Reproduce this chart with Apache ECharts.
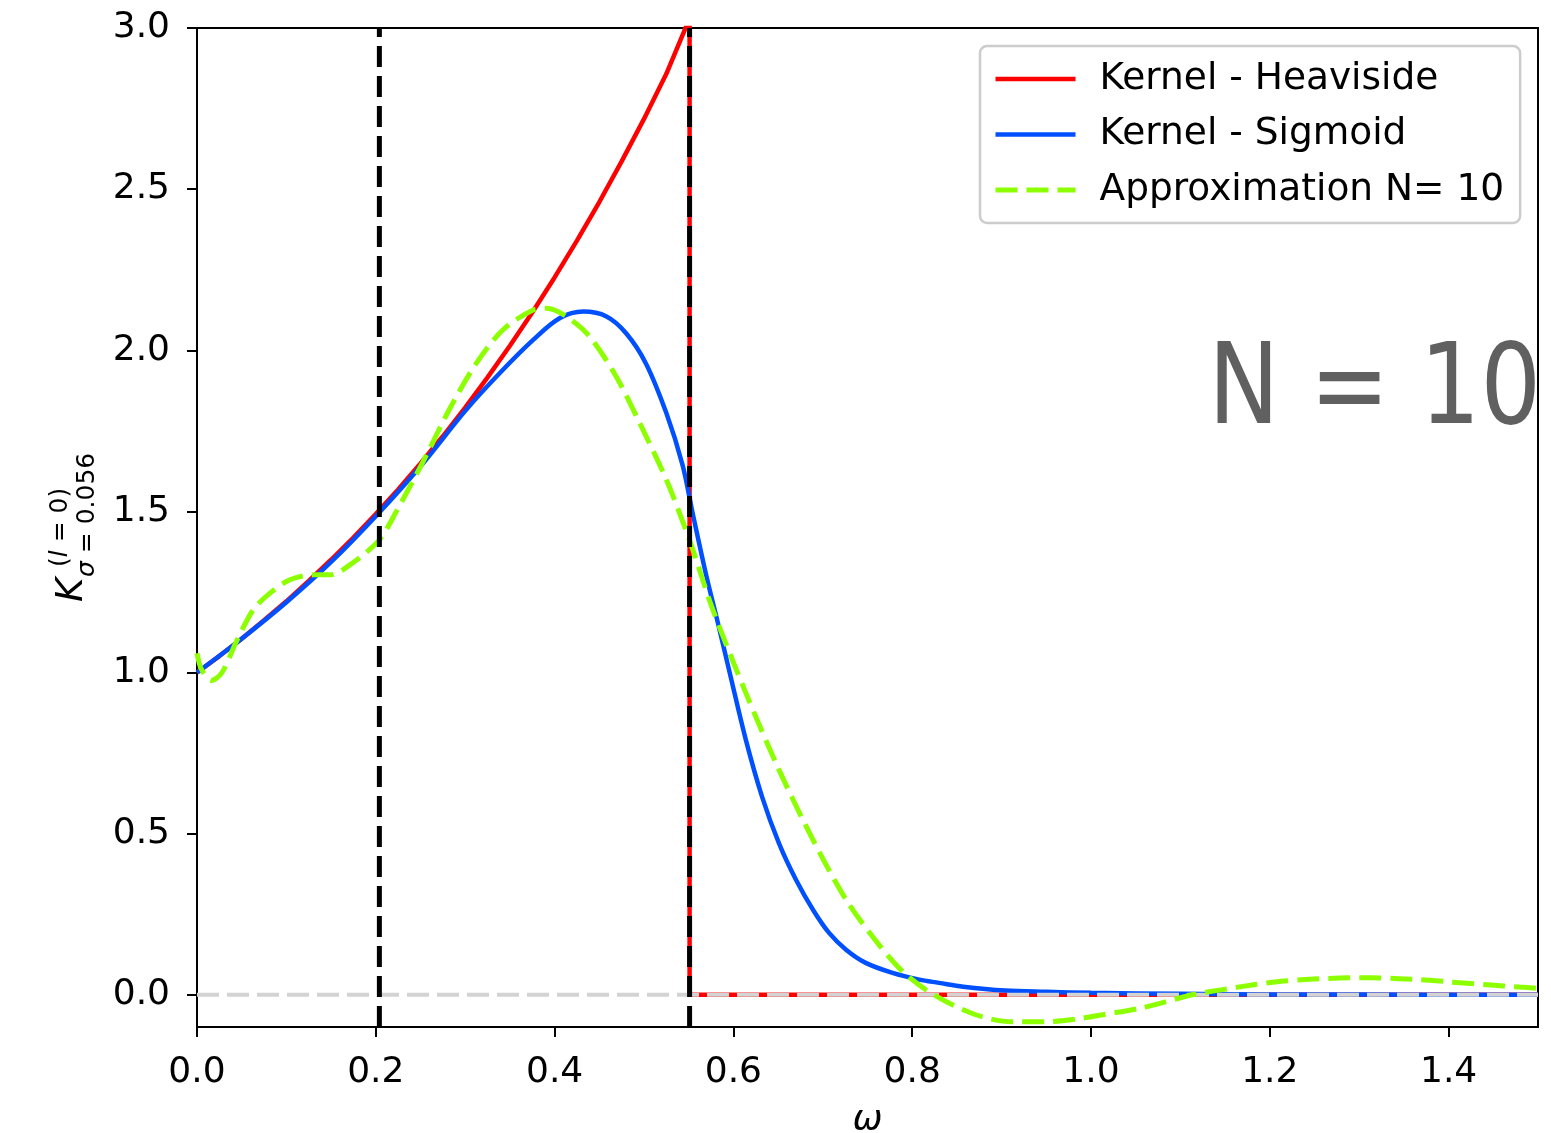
<!DOCTYPE html>
<html><head><meta charset="utf-8">
<script src="https://cdn.jsdelivr.net/npm/echarts@6/dist/echarts.min.js"></script>
<style>html,body{margin:0;padding:0;background:#fff}#c{width:1551px;height:1133px}</style>
</head><body><div id="c"></div>
<script>
// ---- data ----
const heavOmega = [0, 0.025, 0.05, 0.075, 0.1, 0.125, 0.15, 0.175, 0.2, 0.225, 0.25, 0.275, 0.3, 0.325, 0.35, 0.375, 0.4, 0.425, 0.45, 0.475, 0.5, 0.525, 0.551, 0.551, 1.5];
const heavK = [1.0, 1.051, 1.105, 1.162, 1.221, 1.284, 1.35, 1.419, 1.492, 1.568, 1.649, 1.733, 1.822, 1.916, 2.014, 2.117, 2.226, 2.34, 2.46, 2.586, 2.718, 2.858, 3.03, 0, 0];

const sigOmega = [0, 0.05, 0.1, 0.15, 0.2, 0.25, 0.301, 0.339, 0.376, 0.406, 0.432, 0.458, 0.48, 0.502, 0.525, 0.543, 0.554, 0.569, 0.583, 0.596, 0.614, 0.632, 0.651, 0.67, 0.689, 0.707, 0.726, 0.748, 0.778, 0.808, 0.83, 0.857, 0.904, 0.95, 1.0, 1.1, 1.2, 1.3, 1.5];
const sigK = [1.0, 1.105, 1.218, 1.343, 1.485, 1.64, 1.815, 1.93, 2.032, 2.1, 2.12, 2.105, 2.053, 1.96, 1.805, 1.645, 1.5, 1.309, 1.15, 0.998, 0.79, 0.615, 0.47, 0.357, 0.264, 0.192, 0.14, 0.099, 0.068, 0.047, 0.037, 0.025, 0.013, 0.009, 0.006, 0.003, 0.001, 0.0005, 0];

const apxOmega = [0, 0.005, 0.016, 0.028, 0.044, 0.063, 0.082, 0.104, 0.13, 0.149, 0.174, 0.204, 0.223, 0.253, 0.283, 0.3125, 0.342, 0.376, 0.391, 0.413, 0.439, 0.469, 0.495, 0.525, 0.551, 0.577, 0.614, 0.651, 0.689, 0.726, 0.763, 0.791, 0.824, 0.871, 0.912, 0.947, 0.982, 1.013, 1.051, 1.082, 1.113, 1.147, 1.182, 1.213, 1.244, 1.278, 1.313, 1.344, 1.379, 1.413, 1.444, 1.479, 1.5];
const apxK = [1.06, 1.01, 0.975, 1.0, 1.096, 1.195, 1.247, 1.288, 1.303, 1.303, 1.34, 1.412, 1.5, 1.655, 1.82, 1.96, 2.063, 2.125, 2.13, 2.105, 2.043, 1.918, 1.775, 1.598, 1.41, 1.195, 0.936, 0.698, 0.481, 0.295, 0.155, 0.068, 0.0, -0.062, -0.084, -0.084, -0.076, -0.062, -0.044, -0.023, 0.0, 0.016, 0.031, 0.042, 0.048, 0.052, 0.053, 0.05, 0.045, 0.037, 0.031, 0.024, 0.02];

const cutOmegas = [0.204, 0.551];
const xTicks = [0, 0.2, 0.4, 0.6, 0.8, 1.0, 1.2, 1.4];
const yTicks = [0, 0.5, 1.0, 1.5, 2.0, 2.5, 3.0];
const seriesNames = ['Kernel - Heaviside', 'Kernel - Sigmoid', 'Approximation N= 10'];
const annotation = 'N = 10';

// ---- chart ----
const FONT = 'DejaVu Sans';
const pair = (xs, ys) => xs.map((x, i) => [x, ys[i]]);
const RED = '#ff0000', BLUE = '#0050ff', GREEN = '#8cff00';

const chart = echarts.init(document.getElementById('c'), null, {renderer: 'canvas'});
const series = [
  {name: seriesNames[0], type: 'line', data: pair(heavOmega, heavK), symbol: 'none', smooth: false,
   lineStyle: {color: RED, width: 4.5}, itemStyle: {color: RED}, z: 2},
  {name: seriesNames[1], type: 'line', data: pair(sigOmega, sigK), symbol: 'none', smooth: 0.35,
   lineStyle: {color: BLUE, width: 4.5}, itemStyle: {color: BLUE}, z: 2},
  {name: 'zero', type: 'line', data: [[0, 0], [1.5, 0]], symbol: 'none',
   lineStyle: {color: '#d3d3d3', width: 4, type: [22, 8]}, z: 2},
  {name: seriesNames[2], type: 'line', data: pair(apxOmega, apxK), symbol: 'none', smooth: 0.3,
   lineStyle: {color: GREEN, width: 5, type: [22, 9]}, itemStyle: {color: GREEN}, z: 2}
];
cutOmegas.forEach((w, i) => series.push({
  name: 'cut' + i, type: 'line', data: [[w, -0.1], [w, 3.0]], symbol: 'none',
  lineStyle: {color: '#000', width: 5, type: [21, 9]}, z: 2
}));

const option = {
  animation: false,
  backgroundColor: '#fff',
  grid: {left: 197, right: 13, top: 28, bottom: 106, show: true, borderColor: '#000', borderWidth: 2,
         backgroundColor: 'transparent', outerBoundsMode: 'none', containLabel: false},
  xAxis: {
    type: 'value', min: 0, max: 1.5,
    name: 'ω', nameLocation: 'middle', nameGap: 76,
    nameTextStyle: {fontFamily: FONT, fontSize: 36, fontStyle: 'italic', color: '#000'},
    axisLine: {show: true, onZero: false, lineStyle: {color: '#000', width: 2}},
    axisTick: {show: true, length: 10, lineStyle: {color: '#000', width: 2}, customValues: xTicks},
    axisLabel: {customValues: xTicks, margin: 28, fontFamily: FONT, fontSize: 36, color: '#000', formatter: v => v.toFixed(1)},
    splitLine: {show: false}
  },
  yAxis: {
    type: 'value', min: -0.1, max: 3.0,
    axisLine: {show: true, onZero: false, lineStyle: {color: '#000', width: 2}},
    axisTick: {show: true, length: 10, lineStyle: {color: '#000', width: 2}, customValues: yTicks},
    axisLabel: {customValues: yTicks, margin: 27, fontFamily: FONT, fontSize: 36, color: '#000', formatter: v => v.toFixed(1)},
    splitLine: {show: false}
  },
  legend: {
    orient: 'vertical', left: 980, top: 46,
    padding: [13, 16, 13, 13],
    itemWidth: 80, itemHeight: 4, itemGap: 15.5,
    backgroundColor: '#fff', borderColor: '#cccccc', borderWidth: 2.5, borderRadius: 7,
    itemStyle: {opacity: 0},
    textStyle: {fontFamily: FONT, fontSize: 37.5, color: '#000', lineHeight: 40, padding: [0, 0, 0, 19]},
    data: [
      {name: seriesNames[0], lineStyle: {color: RED, width: 4.5}, itemStyle: {opacity: 0}},
      {name: seriesNames[1], lineStyle: {color: BLUE, width: 4.5}, itemStyle: {opacity: 0}},
      {name: seriesNames[2], lineStyle: {color: GREEN, width: 5, type: [22, 9]}, itemStyle: {opacity: 0}}
    ]
  },
  graphic: [
    {type: 'text', x: 1541, y: 394, scaleX: 0.85, z: 10,
     style: {text: annotation, x: 0, y: 0, align: 'right', verticalAlign: 'middle',
             font: 'normal 112px "DejaVu Sans"', fill: '#606060'}},
    {type: 'group', x: 85, y: 602, rotation: Math.PI / 2, z: 10, children: [
      {type: 'text', style: {text: 'K', x: 0, y: -13, verticalAlign: 'middle', align: 'left',
        font: 'italic 37px "DejaVu Sans"', fill: '#000'}},
      {type: 'text', style: {text: '{n|(}{i|l}{n| = 0)}', x: 35, y: -25, verticalAlign: 'middle', align: 'left',
        fill: '#000', font: '25px "DejaVu Sans"',
        rich: {n: {font: '25px "DejaVu Sans"', fill: '#000'}, i: {font: 'italic 25px "DejaVu Sans"', fill: '#000'}}}},
      {type: 'text', style: {text: '{i|σ}{n| = 0.056}', x: 25, y: 2, verticalAlign: 'middle', align: 'left',
        fill: '#000', font: '25px "DejaVu Sans"',
        rich: {n: {font: '25px "DejaVu Sans"', fill: '#000'}, i: {font: 'italic 25px "DejaVu Sans"', fill: '#000'}}}}
    ]}
  ],
  series: series
};
chart.setOption(option);
</script>
</body></html>
